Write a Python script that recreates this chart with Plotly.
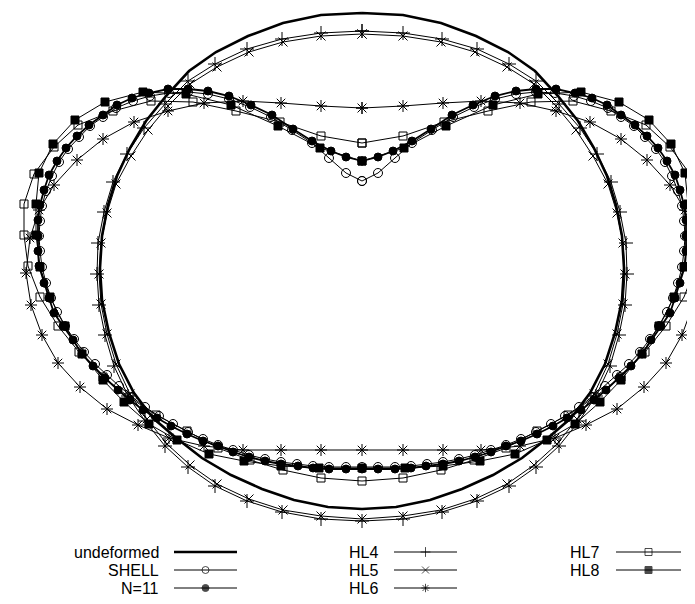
import plotly.graph_objects as go

# Deformed cross-sections of a pinched cylinder (radius ~1).
# Each array holds the right half (x >= 0), from the top point (x = 0)
# round to the bottom point (x = 0); the sections are symmetric about x = 0.

undeformed_x = [0, 0.164, 0.316, 0.456, 0.584, 0.692, 0.784, 0.864, 0.928, 0.980, 1.016, 1.040,
                1.048, 1.040, 1.012, 0.972, 0.912, 0.836, 0.748, 0.640, 0.524, 0.400, 0.272, 0.136, 0]
undeformed_y = [0.992, 0.984, 0.952, 0.900, 0.836, 0.760, 0.660, 0.560, 0.452, 0.340, 0.224, 0.100,
                -0.028, -0.156, -0.288, -0.412, -0.528, -0.628, -0.704, -0.788, -0.856, -0.912, -0.956, -0.984, -0.992]

shell_x = [0, 0.064, 0.132, 0.200, 0.280, 0.364, 0.448, 0.532, 0.616, 0.696, 0.772, 0.848, 0.916, 0.984,
           1.036, 1.088, 1.132, 1.176, 1.212, 1.240, 1.264, 1.280, 1.288, 1.292, 1.288, 1.280, 1.264, 1.244,
           1.220, 1.188, 1.152, 1.112, 1.068, 1.020, 0.972, 0.920, 0.868, 0.812, 0.756, 0.696, 0.636, 0.576,
           0.516, 0.452, 0.388, 0.324, 0.260, 0.196, 0.132, 0.064, 0]
shell_y = [0.320, 0.352, 0.412, 0.472, 0.524, 0.576, 0.616, 0.648, 0.668, 0.676, 0.672, 0.660, 0.640, 0.612,
           0.576, 0.540, 0.496, 0.448, 0.396, 0.340, 0.280, 0.220, 0.160, 0.100, 0.040, -0.024, -0.088, -0.148,
           -0.204, -0.260, -0.312, -0.364, -0.412, -0.456, -0.500, -0.544, -0.584, -0.620, -0.652, -0.684, -0.712,
           -0.736, -0.756, -0.776, -0.792, -0.804, -0.812, -0.820, -0.824, -0.824, -0.824]

n11_x = [0, 0.064, 0.124, 0.200, 0.276, 0.360, 0.444, 0.532, 0.616, 0.696, 0.776, 0.852, 0.920, 0.980,
         1.036, 1.092, 1.140, 1.184, 1.220, 1.252, 1.272, 1.288, 1.296, 1.296, 1.296, 1.292, 1.272, 1.252,
         1.232, 1.196, 1.156, 1.120, 1.076, 1.028, 0.976, 0.928, 0.876, 0.820, 0.764, 0.700, 0.636, 0.576,
         0.516, 0.452, 0.388, 0.324, 0.256, 0.196, 0.132, 0.064, 0]
n11_y = [0.400, 0.416, 0.440, 0.480, 0.528, 0.584, 0.624, 0.660, 0.680, 0.688, 0.688, 0.672, 0.652, 0.624,
         0.584, 0.544, 0.500, 0.452, 0.400, 0.344, 0.284, 0.224, 0.164, 0.100, 0.040, -0.020, -0.088, -0.148,
         -0.208, -0.260, -0.316, -0.372, -0.420, -0.468, -0.516, -0.556, -0.596, -0.628, -0.660, -0.692, -0.720,
         -0.740, -0.764, -0.784, -0.800, -0.812, -0.820, -0.828, -0.832, -0.832, -0.832]

hl4_x = [0, 0.164, 0.320, 0.460, 0.588, 0.696, 0.788, 0.872, 0.940, 0.996, 1.032, 1.056, 1.060,
         1.052, 1.028, 0.992, 0.936, 0.868, 0.788, 0.696, 0.588, 0.460, 0.320, 0.164, 0]
hl4_y = [0.920, 0.912, 0.888, 0.848, 0.788, 0.720, 0.628, 0.532, 0.428, 0.316, 0.196, 0.072, -0.052,
         -0.176, -0.296, -0.420, -0.540, -0.640, -0.740, -0.824, -0.900, -0.960, -1.004, -1.032, -1.040]

hl5_x = [0, 0.164, 0.316, 0.452, 0.580, 0.688, 0.776, 0.856, 0.924, 0.984, 1.020, 1.044, 1.052,
         1.044, 1.020, 0.984, 0.928, 0.860, 0.780, 0.688, 0.580, 0.452, 0.316, 0.164, 0]
hl5_y = [0.908, 0.900, 0.876, 0.836, 0.776, 0.708, 0.620, 0.524, 0.420, 0.308, 0.192, 0.072, -0.052,
         -0.172, -0.292, -0.412, -0.532, -0.632, -0.732, -0.816, -0.892, -0.952, -0.996, -1.020, -1.032]

hl6_x = [0, 0.164, 0.324, 0.476, 0.632, 0.776, 0.912, 1.036, 1.140, 1.232, 1.292, 1.328, 1.344,
         1.324, 1.280, 1.216, 1.128, 1.020, 0.896, 0.772, 0.632, 0.476, 0.324, 0.164, 0]
hl6_y = [0.612, 0.620, 0.632, 0.640, 0.632, 0.600, 0.556, 0.488, 0.404, 0.304, 0.204, 0.092, -0.048,
         -0.176, -0.296, -0.408, -0.504, -0.592, -0.656, -0.708, -0.740, -0.756, -0.756, -0.756, -0.756]

hl7_x = [0, 0.164, 0.328, 0.504, 0.676, 0.844, 0.996, 1.136, 1.232, 1.312, 1.352, 1.352, 1.336,
         1.288, 1.216, 1.132, 1.036, 0.932, 0.824, 0.700, 0.576, 0.448, 0.316, 0.164, 0]
hl7_y = [0.472, 0.500, 0.556, 0.600, 0.636, 0.640, 0.600, 0.544, 0.456, 0.348, 0.228, 0.104, -0.020,
         -0.144, -0.260, -0.364, -0.464, -0.544, -0.616, -0.680, -0.748, -0.796, -0.836, -0.868, -0.880]

hl8_x = [0, 0.168, 0.336, 0.524, 0.704, 0.876, 1.028, 1.148, 1.236, 1.292, 1.304, 1.304, 1.288,
         1.248, 1.188, 1.120, 1.036, 0.952, 0.852, 0.740, 0.612, 0.472, 0.324, 0.172, 0]
hl8_y = [0.400, 0.452, 0.540, 0.624, 0.668, 0.676, 0.636, 0.564, 0.468, 0.352, 0.228, 0.104, -0.024,
         -0.144, -0.260, -0.372, -0.476, -0.564, -0.652, -0.716, -0.772, -0.800, -0.820, -0.828, -0.828]

names = ["undeformed", "SHELL", "N=11", "HL4", "HL5", "HL6", "HL7", "HL8"]
halves = [(undeformed_x, undeformed_y), (shell_x, shell_y), (n11_x, n11_y), (hl4_x, hl4_y),
          (hl5_x, hl5_y), (hl6_x, hl6_y), (hl7_x, hl7_y), (hl8_x, hl8_y)]

styles = {
    "undeformed": dict(symbol=None, size=0, lw=2.6),
    "SHELL": dict(symbol="circle-open", size=9, lw=1.0),
    "N=11": dict(symbol="circle", size=8, lw=1.8),
    "HL4": dict(symbol="cross-thin-open", size=10, lw=1.0),
    "HL5": dict(symbol="x-thin-open", size=9, lw=1.0),
    "HL6": dict(symbol="asterisk-open", size=10, lw=1.0),
    "HL7": dict(symbol="square-open", size=8, lw=1.0),
    "HL8": dict(symbol="square", size=8, lw=1.0),
}


def full_section(xh, yh):
    xs = list(xh) + [-v for v in reversed(xh[:-1])]
    ys = list(yh) + list(reversed(yh[:-1]))
    return xs, ys


fig = go.Figure()
for name, (xh, yh) in zip(names, halves):
    xs, ys = full_section(xh, yh)
    st = styles[name]
    if st["symbol"] is None:
        fig.add_trace(go.Scatter(x=xs, y=ys, mode="lines", name=name, showlegend=False,
                                 line=dict(color="black", width=st["lw"])))
    else:
        fig.add_trace(go.Scatter(x=xs, y=ys, mode="lines+markers", name=name, showlegend=False,
                                 line=dict(color="black", width=st["lw"]),
                                 marker=dict(symbol=st["symbol"], size=st["size"], color="black",
                                             line=dict(color="black", width=1))))

# ---- hand-built key (gnuplot style: label, then sample to its right) ----
W, H = 695, 604
key_cols = [(152, 166, 229), (371, 386, 449), (592, 608, 673)]   # text right edge, sample start, sample end
key_rows = [544, 562, 580]
key_layout = [(0, 0), (0, 1), (0, 2), (1, 0), (1, 1), (1, 2), (2, 0), (2, 1)]
font = dict(family="Liberation Sans, Arial, Helvetica, sans-serif", size=16, color="black")

for name, (ci, ri) in zip(names, key_layout):
    tx, sx0, sx1 = key_cols[ci]
    yy = key_rows[ri]
    st = styles[name]
    fig.add_annotation(x=tx, y=yy, xref="x2", yref="y2", text=name, showarrow=False,
                       xanchor="right", yanchor="middle", font=font, borderpad=0)
    if st["symbol"] is None:
        fig.add_trace(go.Scatter(x=[sx0, sx1], y=[yy, yy], xaxis="x2", yaxis="y2", mode="lines",
                                 showlegend=False, line=dict(color="black", width=st["lw"])))
    else:
        fig.add_trace(go.Scatter(x=[sx0, (sx0 + sx1) / 2, sx1], y=[yy, yy, yy], xaxis="x2", yaxis="y2",
                                 mode="lines+markers", showlegend=False,
                                 line=dict(color="black", width=1),
                                 marker=dict(symbol=st["symbol"], size=[0, 7, 0], color="black",
                                             line=dict(color="black", width=1))))

plot_h = 530
fig.update_layout(
    width=W, height=H,
    margin=dict(l=0, r=0, t=0, b=0),
    paper_bgcolor="white", plot_bgcolor="rgba(0,0,0,0)",
    hovermode=False,
    showlegend=False,
    xaxis=dict(range=[-354 / 250, (W - 354) / 250], visible=False, domain=[0, 1]),
    yaxis=dict(range=[(253 - plot_h) / 250, 253 / 250], visible=False, domain=[1 - plot_h / H, 1]),
    xaxis2=dict(range=[0, W], visible=False, domain=[0, 1], anchor="y2"),
    yaxis2=dict(range=[H, 0], visible=False, domain=[0, 1], anchor="x2"),
)

fig.write_html("out.html")
